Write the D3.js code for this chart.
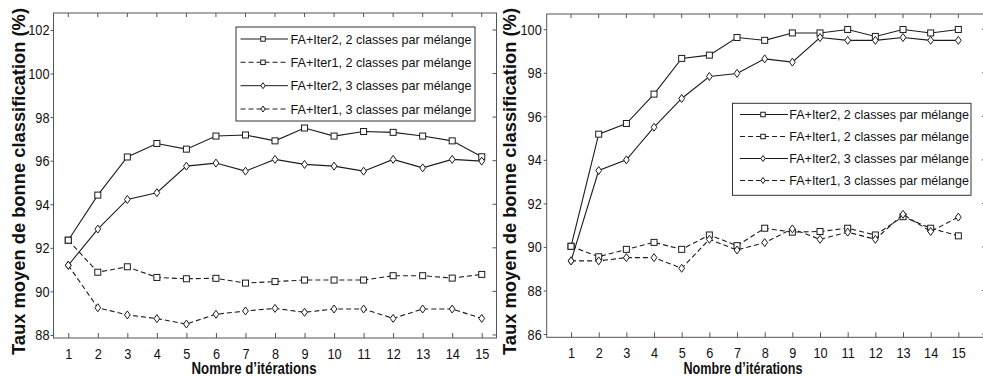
<!DOCTYPE html>
<html lang="fr">
<head>
<meta charset="utf-8">
<title>Taux moyen de bonne classification</title>
<script src="https://cdn.jsdelivr.net/npm/d3@7/dist/d3.min.js"></script>
<style>
body{margin:0;background:#fff;}
svg{display:block;background:#fff;}
text{font-family:"Liberation Sans",Arial,sans-serif;fill:#111;}
</style>
</head>
<body>
<div id="chart"></div>
<script>
// iterations (x categories)
var iterations = [1,2,3,4,5,6,7,8,9,10,11,12,13,14,15];

// legend labels, same order in both panels
var seriesNames = [
  "FA+Iter2, 2 classes par mélange",
  "FA+Iter1, 2 classes par mélange",
  "FA+Iter2, 3 classes par mélange",
  "FA+Iter1, 3 classes par mélange"
];

// left panel values (%)
var leftIter2c2 = [92.35,94.42,96.17,96.79,96.53,97.13,97.18,96.91,97.50,97.13,97.34,97.30,97.13,96.91,96.18];
var leftIter1c2 = [92.35,90.88,91.13,90.64,90.58,90.60,90.38,90.45,90.52,90.52,90.52,90.72,90.72,90.61,90.78];
var leftIter2c3 = [91.20,92.86,94.22,94.53,95.75,95.89,95.52,96.06,95.83,95.75,95.52,96.06,95.67,96.06,95.98];
var leftIter1c3 = [91.20,89.25,88.92,88.75,88.50,88.95,89.10,89.22,89.04,89.19,89.19,88.76,89.19,89.19,88.76];

// right panel values (%)
var rightIter2c2 = [90.03,95.18,95.67,97.02,98.66,98.81,99.62,99.49,99.83,99.83,99.99,99.67,99.99,99.83,99.99];
var rightIter1c2 = [90.03,89.55,89.89,90.21,89.89,90.55,90.06,90.86,90.68,90.71,90.86,90.55,91.39,90.86,90.51];
var rightIter2c3 = [89.36,93.51,94.00,95.50,96.82,97.83,97.97,98.64,98.49,99.62,99.49,99.49,99.62,99.49,99.49];
var rightIter1c3 = [89.36,89.36,89.51,89.51,89.02,90.35,89.86,90.20,90.83,90.35,90.68,90.35,91.50,90.71,91.37];

// y tick labels
var leftYTicks = [88,90,92,94,96,98,100,102];
var rightYTicks = [86,88,90,92,94,96,98,100];

var yTitle = "Taux moyen de bonne classification (%)";
var xTitle = "Nombre d\u2019itérations";

// line style per series: solid/dashed, square/diamond
var styles = [
  {dash:null, marker:"square"},
  {dash:"5,3", marker:"square"},
  {dash:null, marker:"diamond"},
  {dash:"5,3", marker:"diamond"}
];

var width = 983, height = 376;
var ink = "#1c1c1c", axisInk = "#555";

var svg = d3.select("#chart").append("svg")
    .attr("width", width)
    .attr("height", height);

// s = full height of the marker
function marker(sel, kind, s){
  if(kind=="square"){
    sel.append("rect")
      .attr("x",-s/2).attr("y",-s/2).attr("width",s).attr("height",s)
      .attr("fill","#fff").attr("stroke",ink).attr("stroke-width",1);
  } else {
    var w=s*0.36, h=s*0.5;
    sel.append("path")
      .attr("d","M0,"+(-h)+"L"+w+",0L0,"+h+"L"+(-w)+",0Z")
      .attr("fill","#fff").attr("stroke",ink).attr("stroke-width",1);
  }
}

function condense(sel, k){
  sel.each(function(){
    var w=this.getComputedTextLength();
    d3.select(this).attr("textLength",w*k).attr("lengthAdjust","spacingAndGlyphs");
  });
}

function panel(o){
  var g = svg.append("g");
  var x = d3.scaleLinear().domain(o.xDomain).range([o.left,o.right]);
  var y = d3.scaleLinear().domain(o.yDomain).range([o.bottom,o.top]);

  // box
  g.append("rect")
    .attr("x",o.left).attr("y",o.top)
    .attr("width",o.right-o.left).attr("height",o.bottom-o.top)
    .attr("fill","none").attr("stroke",axisInk).attr("stroke-width",1);

  // top ticks
  g.selectAll(".ttick").data(iterations).enter().append("line")
    .attr("x1",d=>x(d)).attr("x2",d=>x(d))
    .attr("y1",o.top).attr("y2",o.top+4)
    .attr("stroke",axisInk);
  // right ticks
  g.selectAll(".rtick").data(o.yTicks).enter().append("line")
    .attr("x1",o.right-4).attr("x2",o.right)
    .attr("y1",d=>y(d)).attr("y2",d=>y(d))
    .attr("stroke",axisInk);

  var ax = g.append("g")
    .attr("transform","translate(0,"+o.bottom+")")
    .call(d3.axisBottom(x).tickValues(iterations).tickSize(-5).tickPadding(9.5).tickFormat(d3.format("d")));
  var ay = g.append("g")
    .attr("transform","translate("+o.left+",0)")
    .call(d3.axisLeft(y).tickValues(o.yTicks).tickSize(3).tickPadding(o.yPad).tickFormat(d3.format("d")));
  [ax,ay].forEach(function(a){
    a.select(".domain").remove();
    a.selectAll(".tick line").attr("stroke",axisInk);
    a.selectAll(".tick text").attr("fill","#111").style("font-size","15.5px")
      .style("font-family","'Liberation Sans',Arial,sans-serif");
    condense(a.selectAll(".tick text"),0.82);
  });

  // series
  var line = d3.line().x((d,i)=>x(iterations[i])).y(d=>y(d));
  o.series.forEach(function(vals,si){
    var st = styles[si];
    g.append("path").datum(vals)
      .attr("d",line)
      .attr("fill","none").attr("stroke",ink).attr("stroke-width",1.1)
      .attr("stroke-dasharray",st.dash);
    g.selectAll(".m"+si).data(vals).enter().append("g")
      .attr("transform",(d,i)=>"translate("+x(iterations[i])+","+y(d)+")")
      .each(function(){ marker(d3.select(this),st.marker,st.marker=="square"?6:8); });
  });

  // legend
  var L = o.legend;
  var lg = g.append("g");
  lg.append("rect").attr("x",L.x).attr("y",L.y).attr("width",L.w).attr("height",L.h)
    .attr("fill","#fff").attr("stroke","#333").attr("stroke-width",1);
  seriesNames.forEach(function(name,i){
    var ry = L.rows[i], st = styles[i];
    lg.append("line").attr("x1",L.x1).attr("x2",L.x2).attr("y1",ry).attr("y2",ry)
      .attr("stroke",ink).attr("stroke-width",1).attr("stroke-dasharray",st.dash);
    var mg = lg.append("g").attr("transform","translate("+L.mx+","+ry+")");
    marker(mg,st.marker,st.marker=="square"?4.5:6);
    lg.append("text").attr("x",L.tx).attr("y",ry+4.5)
      .style("font-size",L.fs+"px").text(name);
  });

  // axis titles
  g.append("text")
    .attr("transform","translate("+o.yTitleX+",181.5) rotate(-90)")
    .attr("text-anchor","middle")
    .style("font-size","17.5px").style("font-weight","bold")
    .attr("textLength",347).attr("lengthAdjust","spacingAndGlyphs")
    .text(yTitle);
  g.append("text")
    .attr("x",o.xTitleX).attr("y",374)
    .attr("text-anchor","middle")
    .style("font-size","16.5px").style("font-weight","bold")
    .attr("textLength",o.xTitleLen).attr("lengthAdjust","spacingAndGlyphs")
    .text(xTitle);
}

panel({
  left:53.5, right:496.5, top:13, bottom:338,
  xDomain:[0.5,15.5], yDomain:[87.86,102.78],
  yTicks:leftYTicks, yPad:1,
  series:[leftIter2c2,leftIter1c2,leftIter2c3,leftIter1c3],
  legend:{x:236,y:27,w:239,h:94,x1:240.5,x2:288,mx:263,tx:290.5,fs:12.6,rows:[39,62.3,85.7,109]},
  yTitleX:25, xTitleX:254, xTitleLen:125
});

panel({
  left:546.7, right:986, top:14, bottom:337.3,
  xDomain:[0.12,16], yDomain:[85.85,100.7],
  yTicks:rightYTicks, yPad:2,
  series:[rightIter2c2,rightIter1c2,rightIter2c3,rightIter1c3],
  legend:{x:732.5,y:103.3,w:238.5,h:92,x1:740,x2:788,mx:763,tx:789.3,fs:12.5,rows:[114.5,136.5,158.5,180.5]},
  yTitleX:515.5, xTitleX:743, xTitleLen:119
});
</script>
</body>
</html>
